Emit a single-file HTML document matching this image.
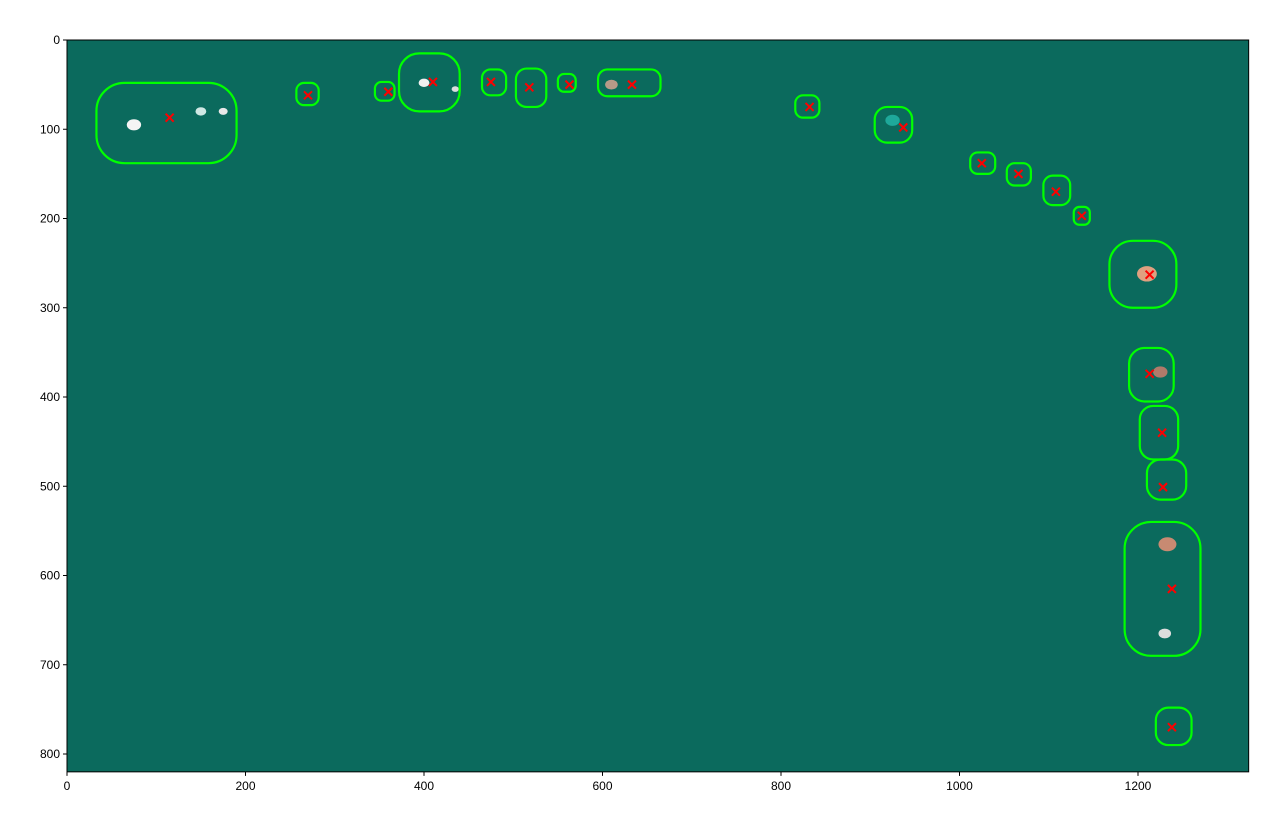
<!DOCTYPE html>
<html><head><meta charset="utf-8"><style>
body{margin:0;background:#fff;width:1284px;height:818px;overflow:hidden;font-family:"Liberation Sans",sans-serif}
</style></head><body>
<svg id="chart" width="1284" height="818" xmlns="http://www.w3.org/2000/svg"></svg>
<script>
const xTicks=[0,200,400,600,800,1000,1200];
const yTicks=[0,100,200,300,400,500,600,700,800];
const markerX=[115,270,360,410,475,518,563,633,832,937,1025,1066,1108,1137,1213,1213,1227,1228,1238,1238];
const markerY=[87,62,58,47,47,53,50,50,75,98,138,150,170,197,263,374,440,501,615,770];
const contourX0=[33,257,345,372,465,503,550,595,816,905,1012,1053,1094,1128,1168,1190,1202,1210,1185,1220];
const contourY0=[48,48,47,15,33,32,38,33,62,75,126,138,152,187,225,345,410,470,540,748];
const contourX1=[190,282,367,440,492,537,570,665,843,947,1040,1080,1124,1146,1243,1240,1245,1254,1270,1260];
const contourY1=[138,73,68,80,62,75,58,63,87,115,150,163,185,207,300,405,470,515,690,790];
const blobX=[75,150,175,400,435,610,925,1210,1225,1233,1230];
const blobY=[95,80,80,48,55,50,90,262,372,565,665];
const blobC=["#f4f4f4","#cfe8e4","#e8e8e8","#f0f0f0","#dddddd","#b79a88","#1ea89a","#e0a080","#b07a6a","#c88a72","#dddddd"];
const blobR=[8,6,5,6,4,7,8,11,8,10,7];
const X0=67,Y0=40,S=0.8925,W=1324,H=820;
const sx=v=>X0+v*S, sy=v=>Y0+v*S;
const svg=document.getElementById('chart');
const NS='http://www.w3.org/2000/svg';
function mk(t,a){const e=document.createElementNS(NS,t);for(const k in a)e.setAttribute(k,a[k]);svg.appendChild(e);return e;}
let bg=mk('rect',{x:sx(0),y:sy(0),width:W*S,height:H*S,fill:'#0b6a5d'});


for(let i=0;i<blobX.length;i++){
 let b=mk('ellipse',{cx:sx(blobX[i]),cy:sy(blobY[i]),rx:blobR[i]*0.9,ry:blobR[i]*0.7,fill:blobC[i]});
 
 
}
for(let i=0;i<contourX0.length;i++){
 const w=(contourX1[i]-contourX0[i])*S,h=(contourY1[i]-contourY0[i])*S;
 let c=mk('rect',{x:sx(contourX0[i]),y:sy(contourY0[i]),width:w,height:h,rx:Math.min(w,h)*0.35,fill:'none',stroke:'#00ff00','stroke-width':2.2});
 
 
}
for(let i=0;i<markerX.length;i++){
 const x=sx(markerX[i]),y=sy(markerY[i]),d=4;
 let m=mk('path',{d:`M${x-d},${y-d}L${x+d},${y+d}M${x-d},${y+d}L${x+d},${y-d}`,stroke:'#ff0000','stroke-width':2});
 
 
}
let fr=mk('rect',{x:sx(0),y:sy(0),width:W*S,height:H*S,fill:'none',stroke:'#000','stroke-width':1});


xTicks.forEach(t=>{
 let l=mk('line',{x1:sx(t),x2:sx(t),y1:sy(H),y2:sy(H)+4,stroke:'#000'});
 
 
 let tx=mk('text',{x:sx(t),y:sy(H)+18,'font-size':12,'text-anchor':'middle'});tx.textContent=t;
 
 
});
yTicks.forEach(t=>{
 let l=mk('line',{x1:sx(0)-4,x2:sx(0),y1:sy(t),y2:sy(t),stroke:'#000'});
 
 
 let tx=mk('text',{x:sx(0)-7,y:sy(t)+4,'font-size':12,'text-anchor':'end'});tx.textContent=t;
 
 
});
</script>
</body></html>
